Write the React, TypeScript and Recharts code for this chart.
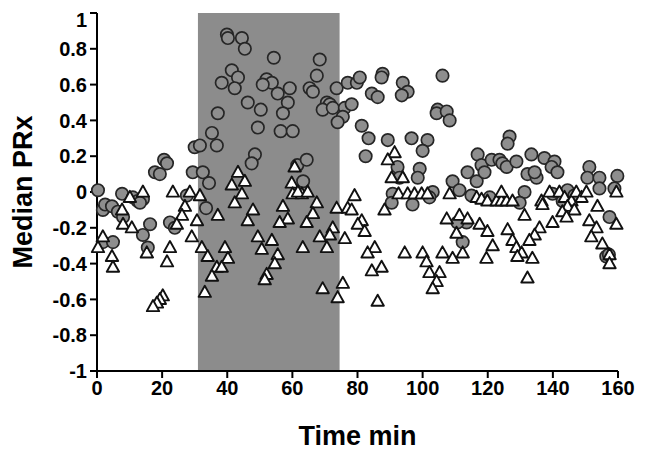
import { ScatterChart, Scatter, XAxis, YAxis, ReferenceArea, Label } from "recharts";

// median PRx per minute
const circleTime = [
  0.3, 1.8, 2.5, 4.6, 6.4, 7.7, 8.0, 11.0, 12.5, 14.1, 13.2, 1.8, 4.9, 16.3, 14.1, 15.6, 17.8, 19.3, 20.6, 21.5,
  22.4, 23.9, 29.4, 30.0, 27.6,
  33.5, 39.9, 40.2, 44.5, 45.4, 54.3, 41.4, 43.3, 38.3, 42.3, 52.1, 53.7, 50.9, 55.5, 59.2, 58.6, 57.1, 46.3,
  50.3, 37.1, 49.4, 56.4, 60.1, 35.3, 36.8, 31.6, 48.5, 47.5, 32.5, 34.4, 61.5, 63.3, 64.4,
  68.4, 67.5, 65.3, 66.3, 73.6, 70.6, 71.5, 69.3, 72.4, 76.1, 78.2, 75.5, 73.9, 77.0, 79.8, 80.7, 87.7, 87.4,
  84.4, 86.2, 81.3, 83.4, 89.3, 82.5, 92.3, 92.9, 90.8, 90.5, 106.1, 93.9, 95.4, 93.6, 104.6, 104.3, 107.4,
  108.3, 96.6, 101.5, 100.0, 99.1, 98.5, 109.2, 111.3, 103.1, 102.1, 96.9, 116.9, 118.1, 116.6, 113.8, 119.0,
  121.2, 123.6, 124.5, 125.8, 126.7, 126.1, 113.5, 110.7, 112.3, 115.0, 120.6, 133.4, 137.4, 140.5, 139.6,
  141.4, 128.8, 132.2, 135.0, 134.4, 151.2, 150.6, 154.3, 159.8, 131.3, 129.8, 144.5, 143.0, 157.4, 156.4,
  157.2, 154.3, 158.9, 139.9, 146.6,
];
const circlePRx = [
  0.01, -0.1, -0.07, -0.08, -0.11, -0.01, -0.14, -0.03, -0.05, -0.04, -0.06, -0.28, -0.28, -0.18, -0.24, -0.31,
  0.11, 0.1, 0.18, 0.16, -0.17, -0.2, 0.11, 0.25, -0.02,
  -0.09, 0.88, 0.86, 0.86, 0.8, 0.75, 0.68, 0.64, 0.61, 0.58, 0.63, 0.61, 0.6, 0.55, 0.58, 0.5, 0.44, 0.5,
  0.46, 0.44, 0.36, 0.34, 0.34, 0.33, 0.26, 0.26, 0.21, 0.16, 0.11, 0.05, 0.15, 0.06, 0.18,
  0.74, 0.65, 0.58, 0.56, 0.58, 0.5, 0.49, 0.46, 0.47, 0.47, 0.49, 0.42, 0.39, 0.61, 0.61, 0.64, 0.66, 0.64,
  0.55, 0.53, 0.37, 0.3, 0.29, 0.2, 0.14, 0.08, -0.01, -0.06, 0.65, 0.61, 0.56, 0.54, 0.46, 0.44, 0.45,
  0.4, 0.3, 0.29, 0.23, 0.13, 0.08, 0.06, 0.01, 0.0, -0.03, -0.07, 0.21, 0.15, 0.06, 0.11, 0.11,
  0.18, 0.18, 0.16, 0.14, 0.31, 0.27, -0.17, -0.17, -0.28, -0.02, -0.03, 0.21, 0.19, 0.17, 0.14,
  0.11, 0.17, 0.1, 0.08, 0.11, 0.14, 0.08, 0.08, 0.09, 0.0, -0.06, 0.01, -0.05, -0.14, -0.36,
  -0.35, 0.02, 0.02, -0.01, -0.02,
];
const triangleTime = [
  14.1, 10.1, 7.7, 8.0, 10.7, 1.8, 0.3, 4.6, 4.9, 15.3, 22.4, 21.5, 23.3, 28.5, 31.6, 27.0, 26.1, 24.5, 30.7,
  29.1, 32.2, 20.2, 19.3, 18.4, 17.2,
  43.3, 41.4, 45.4, 44.5, 42.3, 37.1, 47.9, 46.3, 57.1, 58.6, 56.1, 59.8, 60.1, 62.9, 49.4, 53.7, 50.6, 55.5,
  54.6, 52.1, 51.5, 34.0, 39.3, 40.2, 36.8, 38.3, 35.3, 33.1, 60.7, 61.7, 64.7, 67.5, 73.6, 66.3, 64.4, 72.4,
  71.5, 68.4, 63.2, 70.6, 69.3, 73.9,
  91.4, 89.3, 90.5, 79.1, 77.0, 78.2, 88.3, 81.3, 80.1, 82.2, 76.1, 85.3, 83.1, 87.4, 84.4, 75.5, 86.2, 93.9,
  92.6, 95.4, 97.5, 99.7, 101.5, 108.3, 116.6, 118.1, 119.9, 122.7, 124.2, 125.8, 127.6, 124.2, 107.4, 111.3,
  110.4, 113.8, 117.5, 119.9, 126.1, 94.5, 100.0, 106.1, 109.2, 112.3, 121.5, 119.6, 101.2, 102.1, 105.2,
  104.3, 103.1, 139.0, 136.5, 136.8, 142.0, 143.6, 145.7, 147.2, 148.8, 150.3, 144.5, 146.6, 142.9, 144.2,
  159.5, 153.7, 151.2, 153.4, 151.8, 155.2, 159.5, 157.4, 157.4, 139.9, 131.3, 135.9, 134.4, 132.8, 127.6,
  128.8, 130.4, 129.1, 133.7, 132.2,
];
const trianglePRx = [
  0.0, -0.03, -0.1, -0.18, -0.2, -0.25, -0.31, -0.36, -0.42, -0.34, -0.31, -0.39, 0.0, 0.0, -0.02, -0.08, -0.13,
  -0.18, -0.16, -0.25, -0.31, -0.58, -0.6, -0.62, -0.64,
  0.11, 0.04, 0.06, -0.01, -0.06, -0.13, -0.1, -0.16, -0.08, -0.15, -0.17, 0.05, -0.01, -0.01, -0.25, -0.27,
  -0.32, -0.35, -0.4, -0.46, -0.49, -0.36, -0.31, -0.37, -0.42, -0.42, -0.47, -0.56, 0.14, 0.0, 0.0, -0.06,
  -0.09, -0.12, -0.17, -0.2, -0.24, -0.25, -0.31, -0.31, -0.54, -0.59,
  0.22, 0.18, 0.08, -0.02, -0.09, -0.1, -0.1, -0.16, -0.18, -0.22, -0.26, -0.31, -0.34, -0.42, -0.44, -0.51,
  -0.61, 0.08, -0.01, -0.01, -0.01, -0.01, -0.01, -0.01, -0.03, -0.04, -0.05, -0.05, -0.05, -0.05, -0.05, 0.0,
  -0.15, -0.13, -0.23, -0.15, -0.18, -0.22, -0.21, -0.34, -0.34, -0.34, -0.37, -0.34, -0.3, -0.37, -0.39,
  -0.45, -0.45, -0.5, -0.54, 0.0, -0.05, -0.07, 0.0, -0.03, -0.05, 0.0, -0.03, 0.0, -0.08, -0.1, -0.11, -0.14,
  0.0, -0.08, -0.16, -0.2, -0.25, -0.29, -0.18, -0.35, -0.4, -0.17, -0.13, -0.2, -0.24, -0.27, -0.27, -0.31,
  -0.34, -0.36, -0.37, -0.48,
];
const xTicks = [0, 20, 40, 60, 80, 100, 120, 140, 160];
const yTicks = [-1, -0.8, -0.6, -0.4, -0.2, 0, 0.2, 0.4, 0.6, 0.8, 1];
const shadeStart = 31;
const shadeEnd = 74.5;

const circles = circleTime.map((t, i) => ({ time: t, prx: circlePRx[i] }));
const triangles = triangleTime.map((t, i) => ({ time: t, prx: trianglePRx[i] }));

const font = "'Liberation Sans', Arial, sans-serif";

const Dot = (p: any) => (
  <circle cx={p.cx} cy={p.cy} r={6.2} fill="#8e8e8e" stroke="#262626" strokeWidth={1.7} />
);

const Tri = (p: any) => {
  const { cx, cy } = p;
  return (
    <polygon
      points={`${cx},${cy - 6.5} ${cx + 6.2},${cy + 4.6} ${cx - 6.2},${cy + 4.6}`}
      fill="#fff"
      stroke="#111"
      strokeWidth={1.9}
      strokeLinejoin="round"
    />
  );
};

export default function App() {
  return (
    <div style={{ width: 637, height: 447, fontFamily: font }}>
      <ScatterChart width={637} height={447} margin={{ top: 5, right: 27, left: 29, bottom: 34 }}>
        <ReferenceArea x1={shadeStart} x2={shadeEnd} y1={-1} y2={1} fill="#8c8c8c" fillOpacity={1} stroke="none" />
        <XAxis
          type="number"
          dataKey="time"
          domain={[0, 160]}
          ticks={xTicks}
          height={50}
          tickSize={7}
          tickMargin={3}
          stroke="#000"
          strokeWidth={2}
          tick={{ fill: "#000", fontSize: 20, fontWeight: "bold", fontFamily: font }}
        >
          <Label value="Time min" position="insideBottom" offset={-24} fill="#000" fontSize={27} fontWeight="bold" fontFamily={font} />
        </XAxis>
        <YAxis
          type="number"
          dataKey="prx"
          domain={[-1, 1]}
          ticks={yTicks}
          width={60}
          tickSize={7}
          tickMargin={3}
          stroke="#000"
          strokeWidth={2}
          tick={{ fill: "#000", fontSize: 20, fontWeight: "bold", fontFamily: font }}
        >
          <Label value="Median PRx" angle={-90} position="insideLeft" offset={-15} style={{ textAnchor: "middle" }} fill="#000" fontSize={27} fontWeight="bold" fontFamily={font} />
        </YAxis>
        <Scatter data={circles} shape={Dot} isAnimationActive={false} />
        <Scatter data={triangles} shape={Tri} isAnimationActive={false} />
      </ScatterChart>
    </div>
  );
}
